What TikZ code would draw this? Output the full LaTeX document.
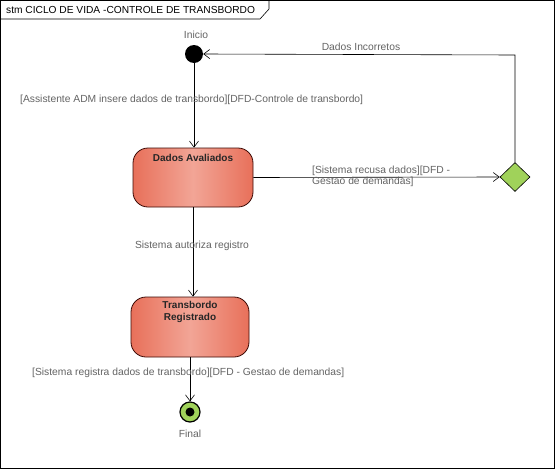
\documentclass[tikz,border=0pt]{standalone}
\usepackage{fontspec}
\setmainfont{Liberation Sans}
\usetikzlibrary{arrows.meta,shapes.geometric}
\definecolor{lbl}{RGB}{100,100,100}
\definecolor{stedge}{RGB}{60,10,5}
\definecolor{stdark}{RGB}{232,112,90}
\definecolor{stlight}{RGB}{242,165,150}
\definecolor{grn}{RGB}{160,210,90}
\tikzset{
  x=1pt,y=-1pt,
  statebox/.style={draw=stedge,line width=0.8pt,rounded corners=15pt,minimum width=120pt,minimum height=59pt,
    left color=stdark,right color=stdark,middle color=stlight,inner sep=0pt},
  sttitle/.style={font=\fontsize{10}{12}\selectfont\bfseries,align=center,text=black!85},
  lab/.style={font=\fontsize{10.3}{12}\selectfont,text=lbl,inner sep=0pt},
  conn/.style={line width=0.6pt,-{Straight Barb[length=6pt,width=9pt,line width=0.6pt]}},
}
\begin{document}
\begin{tikzpicture}
\useasboundingbox (0,0) rectangle (555,469);
\fill[white] (0,0) rectangle (555,469);
% frame
\draw[line width=0.6pt] (0.5,0.5) rectangle (554.5,468.5);
\draw[line width=0.6pt] (0.5,19) -- (260,19) -- (269,9) -- (269,0.5);
\node[anchor=west,font=\fontsize{10.2}{12}\selectfont,inner sep=0pt] (title) at (6,10) {stm CICLO DE VIDA -CONTROLE DE TRANSBORDO};
% initial
\node[circle,fill=black,minimum size=18pt,inner sep=0pt] (ini) at (194,54) {};
\node[lab] (inilab) at (196,35) {Inicio};
% states
\node[statebox] (da) at (193,177.5) {};
\node[sttitle,anchor=north] (datxt) at (da.north) [yshift=-3pt] {Dados Avaliados};
\node[statebox,minimum width=118pt,minimum height=60pt] (tr) at (190,327) {};
\node[sttitle,anchor=north] (trtxt) at (tr.north) [yshift=-1pt] {Transbordo\\Registrado};
% decision
\node[diamond,draw=black,fill=grn,line width=0.6pt,minimum width=30pt,minimum height=29pt,inner sep=0pt] (dec) at (515,177) {};
% final
\node[circle,draw=black,line width=1.2pt,fill=grn,minimum size=20pt,inner sep=0pt] (fin) at (190,412) {};
\node[circle,fill=black,minimum size=9pt,inner sep=0pt] (fdot) at (fin.center) {};
\node[lab] (finlab) at (190,434) {Final};
% connectors
\draw[conn] (ini.south) -- (ini.south |- da.north);
\node[lab,anchor=west] (l1) at (20,100) {[Assistente ADM insere dados de transbordo][DFD-Controle de transbordo]};
\draw[conn] (da.east) -- (dec.west);
\node[lab,anchor=west,align=left,font=\fontsize{10.3}{11.5}\selectfont] (l2) at (312,176.5) {[Sistema recusa dados][DFD -\\Gestao de demandas]};
\coordinate (c1) at (515,55);
\draw[conn] (dec.north) -- (c1) -- (ini.east);
\node[lab] (l3) at (361,47) {Dados Incorretos};
\draw[conn] (da.south -| 193,0) -- (tr.north -| 193,0);
\node[lab] (l4) at (192,246) {Sistema autoriza registro};
\draw[conn] (tr.south) -- (fin.north);
\node[lab,anchor=west] (l5) at (32,373) {[Sistema registra dados de transbordo][DFD - Gestao de demandas]};
\end{tikzpicture}
\end{document}
